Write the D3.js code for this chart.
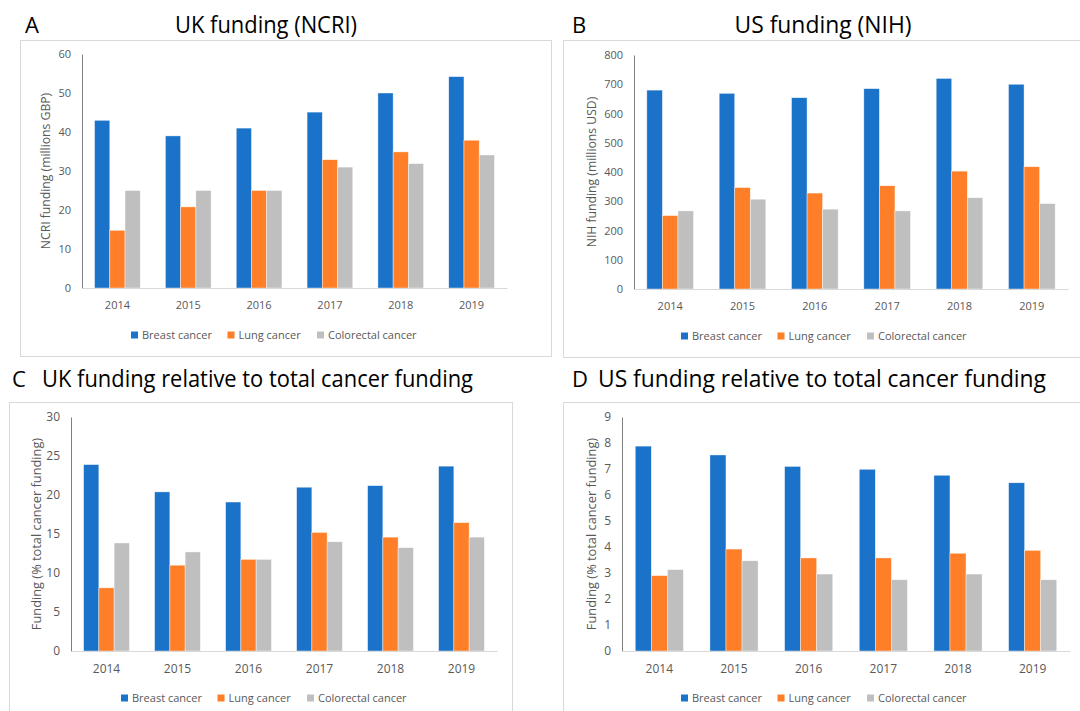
<!DOCTYPE html>
<html>
<head>
<meta charset="utf-8">
<script src="https://cdn.jsdelivr.net/npm/d3@7"></script>
<style>
  body { margin: 0; background: #fff; }
  svg { display: block; font-family: "Open Sans", "Noto Sans", sans-serif; }
</style>
</head>
<body>
<svg id="chart" width="1080" height="711"></svg>
<script>
var years = ["2014", "2015", "2016", "2017", "2018", "2019"];
var seriesNames = ["Breast cancer", "Lung cancer", "Colorectal cancer"];
var colors = ["#1a72c9", "#fe7f27", "#bfbfbf"];

// A: UK funding, NCRI (millions GBP)
var ukBreast = [43, 39, 41, 45.1, 50, 54.2];
var ukLung = [14.8, 20.8, 25, 32.9, 34.9, 37.9];
var ukColorectal = [25, 25, 25, 31, 31.9, 34.1];

// B: US funding, NIH (millions USD)
var usBreast = [680, 669, 654, 685, 720, 700];
var usLung = [251, 347, 328, 353, 403, 418];
var usColorectal = [267, 307, 273, 267, 312, 292];

// C: UK, % of total cancer funding
var ukPctBreast = [23.9, 20.4, 19.1, 21.0, 21.2, 23.7];
var ukPctLung = [8.1, 11.0, 11.75, 15.2, 14.6, 16.45];
var ukPctColorectal = [13.85, 12.7, 11.75, 14.0, 13.25, 14.6];

// D: US, % of total cancer funding
var usPctBreast = [7.88, 7.54, 7.10, 6.99, 6.76, 6.47];
var usPctLung = [2.90, 3.92, 3.58, 3.58, 3.76, 3.87];
var usPctColorectal = [3.13, 3.47, 2.96, 2.74, 2.96, 2.74];

var svg = d3.select('#chart');

var panels = [
  { letter: 'A', title: 'UK funding (NCRI)', titleAnchor: 'middle', letterX: 25, titleX: 266, titleY: 33, titleLen: 182,
    box: [20, 40, 531, 316], left: 82, right: 507, top: 54, bottom: 288, max: 60, ticks: 6, fs: 11,
    yTitle: 'NCRI funding (millions GBP)', yTitleX: 46, yTitleFs: 12.2, legendX: 131,
    series: [ukBreast, ukLung, ukColorectal] },
  { letter: 'B', title: 'US funding (NIH)', titleAnchor: 'middle', letterX: 572, titleX: 823, titleY: 33, titleLen: 177,
    box: [563, 40, 530, 317], left: 634, right: 1068, top: 55, bottom: 289, max: 800, ticks: 8, fs: 11,
    yTitle: 'NIH funding (millions USD)', yTitleX: 592, yTitleFs: 12.2, legendX: 681,
    series: [usBreast, usLung, usColorectal] },
  { letter: 'C', title: 'UK funding relative to total cancer funding', titleAnchor: 'start', letterX: 12, titleX: 42, titleY: 387, titleLen: 431,
    box: [9, 402, 503, 330], left: 71, right: 497, top: 417, bottom: 651, max: 30, ticks: 6, fs: 12,
    yTitle: 'Funding (% total cancer funding)', yTitleX: 37, yTitleFs: 12.8, legendX: 121,
    series: [ukPctBreast, ukPctLung, ukPctColorectal] },
  { letter: 'D', title: 'US funding relative to total cancer funding', titleAnchor: 'start', letterX: 572, titleX: 598, titleY: 387, titleLen: 448,
    box: [563, 402, 530, 330], left: 622, right: 1070, top: 417, bottom: 651, max: 9, ticks: 9, fs: 12,
    yTitle: 'Funding (% total cancer funding)', yTitleX: 592, yTitleFs: 12.8, legendX: 681,
    series: [usPctBreast, usPctLung, usPctColorectal] }
];

// legend item offsets from the first swatch
var legendOffsets = [0, 96.5, 186];

panels.forEach(function(p) {
  var g = svg.append('g');

  g.append('rect')
    .attr('x', p.box[0] + 0.5).attr('y', p.box[1] + 0.5)
    .attr('width', p.box[2]).attr('height', p.box[3])
    .attr('fill', '#fff').attr('stroke', '#d9d9d9').attr('stroke-width', 1);

  g.append('text')
    .attr('x', p.letterX).attr('y', p.titleY)
    .attr('font-size', 22).attr('fill', '#000')
    .text(p.letter);
  g.append('text')
    .attr('x', p.titleX).attr('y', p.titleY)
    .attr('text-anchor', p.titleAnchor)
    .attr('font-size', 23).attr('fill', '#000')
    .attr('textLength', p.titleLen).attr('lengthAdjust', 'spacingAndGlyphs')
    .text(p.title);

  var x = d3.scaleBand().domain(years).range([p.left, p.right])
    .paddingInner(0.355).paddingOuter(0.1775);
  var xs = d3.scaleBand().domain(d3.range(3)).range([0, x.bandwidth()]);
  var y = d3.scaleLinear().domain([0, p.max]).range([p.bottom, p.top]);

  // bars
  p.series.forEach(function(vals, si) {
    g.append('g').selectAll('rect')
      .data(vals)
      .join('rect')
      .attr('x', function(d, i) { return x(years[i]) + xs(si); })
      .attr('y', function(d) { return y(d); })
      .attr('width', xs.bandwidth())
      .attr('height', function(d) { return y(0) - y(d); })
      .attr('fill', colors[si])
      .attr('stroke', '#fff').attr('stroke-width', 0.6).attr('stroke-opacity', 0.7);
  });

  // y axis
  var yAxis = g.append('g')
    .attr('transform', 'translate(' + p.left + ',0)')
    .call(d3.axisLeft(y).ticks(p.ticks).tickSize(0).tickPadding(11));
  yAxis.select('.domain').attr('stroke', '#7f7f7f');
  yAxis.selectAll('text').attr('fill', '#595959').attr('font-size', p.fs)
    .attr('font-family', '"Open Sans", sans-serif');

  // x axis
  var xAxis = g.append('g')
    .attr('transform', 'translate(0,' + p.bottom + ')')
    .call(d3.axisBottom(x).tickSize(0).tickPadding(13).tickSizeOuter(0));
  xAxis.select('.domain').attr('stroke', '#d9d9d9');
  xAxis.selectAll('text').attr('fill', '#595959').attr('font-size', p.fs)
    .attr('font-family', '"Open Sans", sans-serif');

  g.append('text')
    .attr('transform', 'translate(' + p.yTitleX + ',' + ((p.top + p.bottom) / 2) + ') rotate(-90)')
    .attr('text-anchor', 'middle').attr('dy', '0.35em')
    .attr('fill', '#595959').attr('font-size', p.yTitleFs)
    .text(p.yTitle);

  // legend
  var ly = p.bottom + 47;
  seriesNames.forEach(function(name, si) {
    var lx = p.legendX + legendOffsets[si];
    g.append('rect')
      .attr('x', lx).attr('y', ly - 3.5)
      .attr('width', 7).attr('height', 7)
      .attr('fill', colors[si]);
    g.append('text')
      .attr('x', lx + 11).attr('y', ly).attr('dy', '0.35em')
      .attr('fill', '#595959').attr('font-size', 11)
      .text(name);
  });
});
</script>
</body>
</html>
